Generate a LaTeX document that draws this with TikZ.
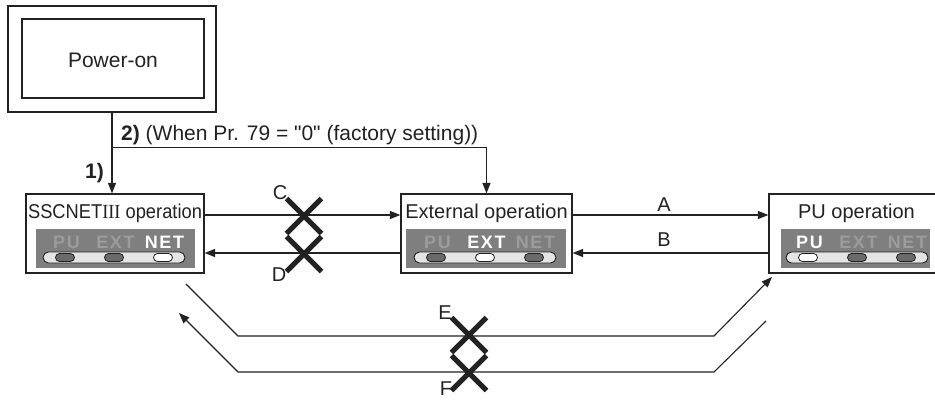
\documentclass[tikz,border=0pt]{standalone}
\usepackage{fontspec}
\usepackage{graphicx}
\setmainfont{Liberation Sans}
\newfontfamily\serifrm{Liberation Serif}
\newfontfamily\lblfont[LetterSpace=9]{Liberation Sans}
\font\rawq="Liberation Sans" at 21pt
\usetikzlibrary{arrows.meta,shapes.misc,calc}
\definecolor{ink}{HTML}{222222}
\definecolor{panelgray}{HTML}{7F7F7F}
\definecolor{dimgray}{HTML}{9C9C9C}
\definecolor{stripgray}{HTML}{E4E4E4}
\definecolor{pilldark}{HTML}{6A6A6A}
\tikzset{
 frame/.style={draw=ink, line width=1.2pt, inner sep=0pt},
 opbox/.style={frame, minimum height=79pt},
 title/.style={font=\fontsize{20}{20}\selectfont, text=ink, inner sep=0pt, anchor=base},
 panel/.style={fill=panelgray, minimum height=39pt, inner sep=0pt},
 strip/.style={fill=stripgray, draw=ink, line width=0.9pt, rounded corners=5.5pt, minimum width=142pt, minimum height=11pt, inner sep=0pt},
 pill/.style={draw=ink, line width=0.8pt, rounded corners=4pt, minimum width=19pt, minimum height=8pt, inner sep=0pt},
 lbl/.style={font=\lblfont\bfseries\fontsize{18}{18}\selectfont, inner sep=0pt},
 conn/.style={draw=ink, line width=1.1pt},
 arr/.style={conn, -{Triangle[length=10.5pt,width=8pt]}},
 xmark/.style={cross out, draw=ink, line width=5pt, minimum size=30pt, inner sep=0pt},
 letter/.style={font=\fontsize{20}{20}\selectfont, text=ink, inner sep=0pt},
}
\newcommand\modeleds[3]{%
 \node[strip] (#1strip) at (#2,257.5) {};
 \foreach \i/\t/\dx in {1/PU/-49,2/EXT/0,3/NET/49}{
   \ifnum\i=#3 \def\pc{white}\def\lc{white}\else\def\pc{pilldark}\def\lc{dimgray}\fi
   \node[pill, fill=\pc] (#1pill\i) at ($(#1strip.center)+(\dx,0)$) {};
   \node[lbl, text=\lc] (#1lbl\i) at ($(#1pill\i)+(1.5,-15)$) {\t};
 }
}
\begin{document}
\begin{tikzpicture}[x=1pt,y=-1pt]
\useasboundingbox (0,0) rectangle (935,400);
\clip (0,0) rectangle (935,400);
\fill[white] (0,0) rectangle (935,400);

% Power-on
\node[frame, minimum width=208pt, minimum height=106pt] (powerout) at (112,59) {};
\node[frame, minimum width=182pt, minimum height=79pt] (power) at (113,58.5) {};
\node[title, font=\fontsize{21}{21}\selectfont] (powertxt) at (113,67.5) {Power-on};

% operation boxes
\node[opbox, minimum width=178pt] (ssc) at (115,233.5) {};
\node[title] (ssctitle) at (115,218) {\scalebox{0.915}[1]{SSCNET{\serifrm III} operation}};
\node[panel, minimum width=159pt] (sscpanel) at (115.5,248.5) {};
\modeleds{ssc}{114}{3}

\node[opbox, minimum width=171pt] (ext) at (486.5,233.5) {};
\node[title] (exttitle) at (486.5,218) {External operation};
\node[panel, minimum width=160pt] (extpanel) at (486,248.5) {};
\modeleds{ext}{485}{2}

\node[opbox, minimum width=173pt] (pu) at (855.5,233.5) {};
\node[title] (putitle) at (856.5,218) {PU operation};
\node[panel, minimum width=149pt] (pupanel) at (855.5,248.5) {};
\modeleds{pu}{857}{1}

% power-on connectors
\draw[arr] (powerout.south) -- (powerout.south |- ssc.north);
\coordinate (j2) at ($(powerout.south)+(0,35)$);
\draw[arr] (j2) -| (ext.north);
\node[letter, font=\fontsize{21}{21}\selectfont, anchor=base west] (note2) at (121,140) {\textbf{2)} (When Pr. 79 = {\rawq"}0{\rawq"} (factory setting))};
\node[letter, font=\fontsize{21}{21}\selectfont, anchor=base west] (note1) at (85,178) {\textbf{1)}};

% horizontal transitions
\draw[arr] ($(ssc.east)+(0,-18.5)$) -- ($(ext.west)+(0,-18.5)$);
\draw[arr] ($(ext.west)+(0,19.5)$) -- ($(ssc.east)+(0,19.5)$);
\draw[arr] ($(ext.east)+(0,-18.5)$) -- ($(pu.west)+(0,-18.5)$);
\draw[arr] ($(pu.west)+(0,19.5)$) -- ($(ext.east)+(0,19.5)$);

\node[xmark] (xc) at (304,216) {};
\node[xmark] (xd) at (304,254) {};
\node[letter] (lc) at (280,193) {C};
\node[letter] (ld) at (279,275) {D};
\node[letter] (la) at (664,205) {A};
\node[letter] (lb) at (664,240) {B};

% bottom routes
\coordinate (e0) at (186,284);
\coordinate (e1) at (238,336);
\coordinate (e2) at (714,336);
\coordinate (e3) at (772,277);
\draw[arr] (e0) -- (e1) -- (e2) -- (e3);
\coordinate (f0) at (766,321);
\coordinate (f1) at (714,372);
\coordinate (f2) at (238,372);
\coordinate (f3) at (179,313);
\draw[arr] (f0) -- (f1) -- (f2) -- (f3);

\node[xmark] (xe) at (469,335) {};
\node[xmark] (xf) at (469,373) {};
\node[letter] (le) at (445,313) {E};
\node[letter] (lf) at (446,389) {F};
\end{tikzpicture}
\end{document}
